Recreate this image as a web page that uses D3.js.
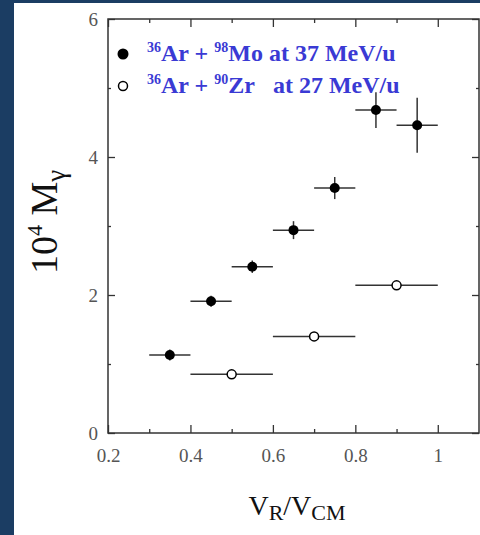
<!DOCTYPE html>
<meta charset="utf-8">
<style>
  body { margin: 0; background: #1b3d63; }
  svg { display: block; }
</style>
<svg width="480" height="535"></svg>
<script src="https://d3js.org/d3.v7.min.js"></script>
<script>

var svg = d3.select("svg"),
    width = +svg.attr("width"),
    height = +svg.attr("height");

// 36Ar + 98Mo at 37 MeV/u (filled)
var moX    = [0.35, 0.45, 0.55, 0.65, 0.75, 0.85, 0.95];
var moY    = [1.13, 1.91, 2.41, 2.94, 3.55, 4.68, 4.46];
var moXErr = [0.05, 0.05, 0.05, 0.05, 0.05, 0.05, 0.05];
var moYErr = [0.08, 0.08, 0.09, 0.13, 0.16, 0.26, 0.40];

// 36Ar + 90Zr at 27 MeV/u (open)
var zrX    = [0.5, 0.7, 0.9];
var zrY    = [0.85, 1.40, 2.14];
var zrXErr = [0.1, 0.1, 0.1];
var zrYErr = [0, 0, 0];

var xMajor = [0.2, 0.4, 0.6, 0.8, 1.0];
var xMinor = [0.3, 0.5, 0.7, 0.9];
var yMajor = [0, 2, 4, 6];
var yMinor = [1, 3, 5];

var serif = "'Liberation Serif', 'DejaVu Serif', serif";

// white panel
svg.append("rect")
    .attr("x", 14).attr("y", 3)
    .attr("width", width - 14).attr("height", height - 3)
    .attr("fill", "#fff");

var x = d3.scaleLinear().domain([0.2, 1.1]).range([108, 479]);
var y = d3.scaleLinear().domain([0, 6]).range([433, 19]);

function fmtX(d) { return d === 1 ? "1" : d3.format(".1f")(d); }

var axisColor = "#333";

function styleAxis(g) {
  g.select(".domain").remove();
  g.selectAll("line").attr("stroke", axisColor).attr("stroke-width", 1.3);
  g.selectAll("text")
      .attr("fill", "#555")
      .attr("font-family", serif)
      .attr("font-size", 19);
}

svg.append("g")
    .attr("transform", "translate(0," + y(0) + ")")
    .call(d3.axisBottom(x).tickValues(xMajor).tickSize(-8).tickPadding(16).tickFormat(fmtX))
    .call(styleAxis);
svg.append("g")
    .attr("transform", "translate(0," + y(0) + ")")
    .call(d3.axisBottom(x).tickValues(xMinor).tickSize(-4).tickFormat(""))
    .call(styleAxis);
svg.append("g")
    .attr("transform", "translate(0," + y(6) + ")")
    .call(d3.axisTop(x).tickValues(xMajor).tickSize(-8).tickFormat(""))
    .call(styleAxis);
svg.append("g")
    .attr("transform", "translate(0," + y(6) + ")")
    .call(d3.axisTop(x).tickValues(xMinor).tickSize(-4).tickFormat(""))
    .call(styleAxis);

svg.append("g")
    .attr("transform", "translate(" + x(0.2) + ",0)")
    .call(d3.axisLeft(y).tickValues(yMajor).tickSize(-7).tickPadding(10).tickFormat(d3.format("d")))
    .call(styleAxis);
svg.append("g")
    .attr("transform", "translate(" + x(0.2) + ",0)")
    .call(d3.axisLeft(y).tickValues(yMinor).tickSize(-3).tickFormat(""))
    .call(styleAxis);
svg.append("g")
    .attr("transform", "translate(" + x(1.1) + ",0)")
    .call(d3.axisRight(y).tickValues(yMajor).tickSize(-7).tickFormat(""))
    .call(styleAxis);
svg.append("g")
    .attr("transform", "translate(" + x(1.1) + ",0)")
    .call(d3.axisRight(y).tickValues(yMinor).tickSize(-3).tickFormat(""))
    .call(styleAxis);

// frame
svg.append("rect")
    .attr("x", x(0.2)).attr("y", y(6))
    .attr("width", x(1.1) - x(0.2)).attr("height", y(0) - y(6))
    .attr("fill", "none")
    .attr("stroke", axisColor)
    .attr("stroke-width", 1.5);

// error bars + points
function series(xs, ys, xe, ye, filled) {
  var data = xs.map(function(d, i) { return {x: d, y: ys[i], xe: xe[i], ye: ye[i]}; });
  var g = svg.append("g");
  g.selectAll(".xe").data(data).enter().append("line")
      .attr("x1", function(d) { return x(d.x - d.xe); })
      .attr("x2", function(d) { return x(d.x + d.xe); })
      .attr("y1", function(d) { return y(d.y); })
      .attr("y2", function(d) { return y(d.y); })
      .attr("stroke", "#333").attr("stroke-width", 1.5);
  g.selectAll(".ye").data(data.filter(function(d) { return d.ye > 0; })).enter().append("line")
      .attr("x1", function(d) { return x(d.x); })
      .attr("x2", function(d) { return x(d.x); })
      .attr("y1", function(d) { return y(d.y - d.ye); })
      .attr("y2", function(d) { return y(d.y + d.ye); })
      .attr("stroke", "#333").attr("stroke-width", 1.5);
  g.selectAll("circle").data(data).enter().append("circle")
      .attr("cx", function(d) { return x(d.x); })
      .attr("cy", function(d) { return y(d.y); })
      .attr("r", filled ? 5 : 4.5)
      .attr("fill", filled ? "#000" : "#fff")
      .attr("stroke", "#000")
      .attr("stroke-width", filled ? 0 : 1.5);
}
series(moX, moY, moXErr, moYErr, true);
series(zrX, zrY, zrXErr, zrYErr, false);

// legend
var legend = [
  {filled: true,  parts: [["36", 1], ["Ar + ", 0], ["98", 1], ["Mo at 37 MeV/u", 0]], y: 61},
  {filled: false, parts: [["36", 1], ["Ar + ", 0], ["90", 1], ["Zr\u00a0\u00a0\u00a0at 27 MeV/u", 0]], y: 93}
];
legend.forEach(function(l) {
  svg.append("circle")
      .attr("cx", 123).attr("cy", l.y - 7)
      .attr("r", l.filled ? 5.5 : 4.5)
      .attr("fill", l.filled ? "#000" : "#fff")
      .attr("stroke", "#000")
      .attr("stroke-width", l.filled ? 0 : 1.5);
  var t = svg.append("text")
      .attr("x", 147).attr("y", l.y)
      .attr("font-family", serif)
      .attr("font-weight", "bold")
      .attr("font-size", 24)
      .attr("fill", "#3a3ad4");
  l.parts.forEach(function(p) {
    t.append("tspan")
        .attr("font-size", p[1] ? 14 : 24)
        .attr("dy", p[1] ? -9 : 9)
        .text(p[0]);
  });
  t.select("tspan").attr("dy", -9);
});

// axis labels
var xl = svg.append("text")
    .attr("x", 297).attr("y", 515)
    .attr("text-anchor", "middle")
    .attr("font-family", serif)
    .attr("font-size", 28)
    .attr("fill", "#111");
xl.append("tspan").text("V");
xl.append("tspan").attr("font-size", 22).attr("dy", 5).text("R");
xl.append("tspan").attr("dy", -5).text("/V");
xl.append("tspan").attr("font-size", 22).attr("dy", 5).text("CM");

var yl = svg.append("text")
    .attr("transform", "translate(57,222) rotate(-90)")
    .attr("text-anchor", "middle")
    .attr("font-family", serif)
    .attr("font-size", 38)
    .attr("fill", "#111");
yl.append("tspan").text("10");
yl.append("tspan").attr("font-size", 22).attr("dy", -15).text("4");
yl.append("tspan").attr("dy", 15).text("\u00a0M");
yl.append("tspan").attr("font-size", 27).attr("dy", 8).text("\u03b3");

</script>
